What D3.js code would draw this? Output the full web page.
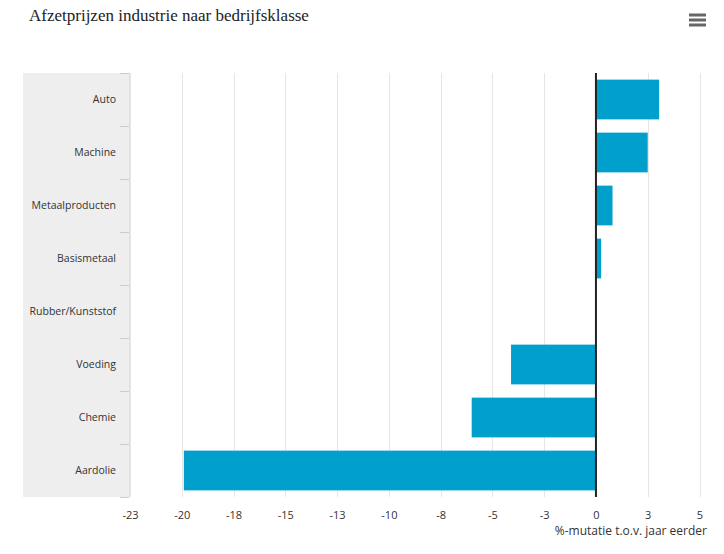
<!DOCTYPE html>
<html><head><meta charset="utf-8">
<script src="https://cdn.jsdelivr.net/npm/d3@7"></script>
<style>body{margin:0;background:#fff;}svg{display:block;}</style>
</head><body>
<svg id="c" width="724" height="554"></svg>
<script>
const categories = ["Auto","Machine","Metaalproducten","Basismetaal","Rubber/Kunststof","Voeding","Chemie","Aardolie"];
const values = [3.05, 2.5, 0.8, 0.25, 0, -4.1, -6.0, -19.9];
const tickValues = [-22.5,-20,-17.5,-15,-12.5,-10,-7.5,-5,-2.5,0,2.5,5];
const tickLabels = ["-23","-20","-18","-15","-13","-10","-8","-5","-3","0","3","5"];
const title = "Afzetprijzen industrie naar bedrijfsklasse";
const axisTitle = "%-mutatie t.o.v. jaar eerder";

const svg = d3.select("#c");
const L = 130, R = 699.5, T = 73, B = 497;
const x = d3.scaleLinear().domain([-22.5, 5]).range([L, R]);
const y = d3.scaleBand().domain(categories).range([T, B]).paddingInner(0.25).paddingOuter(0.125);
const yb = d3.scaleBand().domain(categories).range([T, B]);

// title
svg.append("text").attr("x", 29).attr("y", 21).attr("font-family", "'Liberation Serif', serif")
  .attr("font-size", 17).attr("fill", "#222").text(title);

// hamburger
[15, 20, 25].forEach(yy => svg.append("rect").attr("x", 689).attr("y", yy - 1.5).attr("width", 17).attr("height", 3).attr("fill", "#666"));

// category background
svg.append("rect").attr("x", 23).attr("y", T).attr("width", L - 1 - 23).attr("height", B - T).attr("fill", "#eeeeee");

// gridlines
svg.append("g").selectAll("line").data(tickValues).join("line")
  .attr("x1", d => Math.round(x(d)) + 0.5).attr("x2", d => Math.round(x(d)) + 0.5)
  .attr("y1", T).attr("y2", B).attr("stroke", "#e6e6e6").attr("stroke-width", 1);

// y axis ticks
const bounds = categories.map(c => yb(c)).concat([B]);
svg.append("g").selectAll("line").data(bounds).join("line")
  .attr("x1", 120).attr("x2", L - 1).attr("y1", d => Math.round(d) + 0.5).attr("y2", d => Math.round(d) + 0.5)
  .attr("stroke", "#cccccc");
svg.append("line").attr("x1", L - 0.5).attr("x2", L - 0.5).attr("y1", T).attr("y2", B).attr("stroke", "#e0e0e0");

// bars
svg.append("g").selectAll("rect").data(categories).join("rect")
  .attr("x", (d, i) => x(Math.min(0, values[i])))
  .attr("y", d => y(d))
  .attr("width", (d, i) => Math.abs(x(values[i]) - x(0)))
  .attr("height", y.bandwidth())
  .attr("fill", "#009fcc");

// zero line
svg.append("line").attr("x1", x(0)).attr("x2", x(0)).attr("y1", T).attr("y2", B)
  .attr("stroke", "#222").attr("stroke-width", 2);

// category labels
svg.append("g").selectAll("text").data(categories).join("text")
  .attr("x", 116).attr("y", d => yb(d) + yb.bandwidth() / 2 + 3.5)
  .attr("text-anchor", "end").attr("font-family", "'Open Sans', sans-serif").attr("font-size", 10.5)
  .attr("fill", "#333").text(d => d);

// x axis
const xAxis = d3.axisBottom(x).tickValues(tickValues).tickFormat((d, i) => tickLabels[i]).tickSize(0).tickPadding(14);
const gx = svg.append("g").attr("transform", `translate(0,${B})`).call(xAxis);
gx.select(".domain").remove();
gx.selectAll("text").attr("font-family", "'Open Sans', sans-serif").attr("font-size", 11).attr("fill", "#333");

svg.append("text").attr("x", 707).attr("y", 535).attr("text-anchor", "end")
  .attr("font-family", "'Open Sans', sans-serif").attr("font-size", 12).attr("fill", "#333").text(axisTitle);
</script>
</body></html>
